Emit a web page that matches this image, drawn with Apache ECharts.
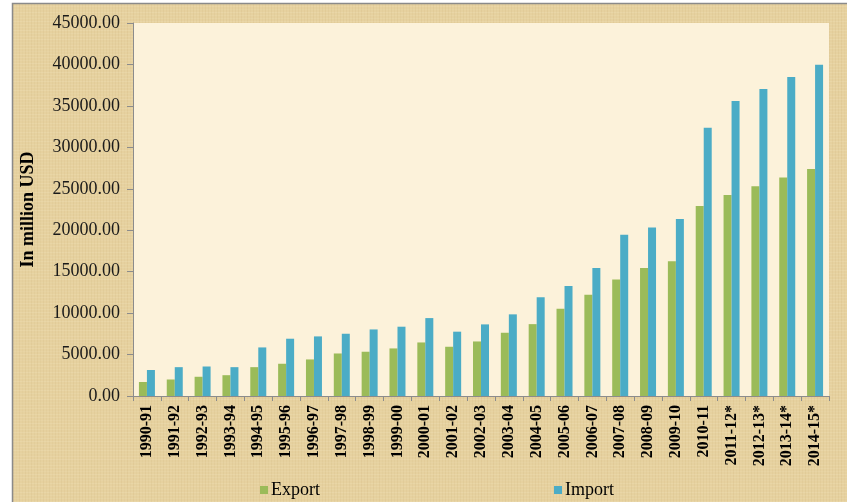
<!DOCTYPE html>
<html>
<head>
<meta charset="utf-8">
<style>
  html, body { margin: 0; padding: 0; background: #ffffff; }
  #chart { width: 847px; height: 502px; }
</style>
<script src="https://cdn.jsdelivr.net/npm/echarts@6/dist/echarts.min.js"></script>
</head>
<body>
<div id="chart"></div>
<script>
// Fiscal years on the category axis
const years = [
  '1990-91', '1991-92', '1992-93', '1993-94', '1994-95', '1995-96', '1996-97',
  '1997-98', '1998-99', '1999-00', '2000-01', '2001-02', '2002-03', '2003-04',
  '2004-05', '2005-06', '2006-07', '2007-08', '2008-09', '2009-10', '2010-11',
  '2011-12*', '2012-13*', '2013-14*', '2014-15*'
];

// Trade values, in million USD
const exportValues = [
  1690, 1990, 2320, 2510, 3480, 3890, 4410, 5130, 5340, 5740, 6460, 5940, 6580,
  7630, 8670, 10530, 12220, 14070, 15440, 16250, 22930, 24260, 25310, 26360, 27400
];
const importValues = [
  3140, 3480, 3560, 3480, 5860, 6910, 7190, 7510, 8030, 8360, 9400, 7760, 8640,
  9850, 11900, 13260, 15440, 19450, 20320, 21350, 32350, 35580, 37030, 38480, 39960
];

// Value axis range
const yMin = 0;
const yMax = 45000;
const yStep = 5000;

const serif = '"Liberation Serif", "DejaVu Serif", serif';

// Papyrus-like fill for the chart frame: a tan base crossed by faint fibres
function papyrusTile() {
  const c = document.createElement('canvas');
  c.width = 120;
  c.height = 120;
  const g = c.getContext('2d');
  g.fillStyle = '#e6d19f';
  g.fillRect(0, 0, 120, 120);
  for (let i = 0; i < 120; i += 3) {
    const a = 0.10 + 0.08 * Math.abs(Math.sin(i * 0.37));
    g.fillStyle = 'rgba(250,238,205,' + a.toFixed(3) + ')';
    g.fillRect(0, i, 120, 1);
    const b = 0.06 + 0.06 * Math.abs(Math.cos(i * 0.53));
    g.fillStyle = 'rgba(190,160,100,' + b.toFixed(3) + ')';
    g.fillRect(i + 1, 0, 1, 120);
  }
  return c;
}

const chart = echarts.init(document.getElementById('chart'), null, { renderer: 'canvas' });

chart.setOption({
  backgroundColor: '#ffffff',
  animation: false,
  graphic: [
    {
      type: 'rect',
      z: -10,
      silent: true,
      shape: { x: 12.5, y: 3.5, width: 900, height: 560 },
      style: {
        fill: { image: papyrusTile(), repeat: 'repeat' },
        stroke: '#8a8a8a',
        lineWidth: 1.5
      }
    }
  ],
  grid: {
    left: 133,
    top: 23,
    right: 18,
    bottom: 106,
    show: true,
    backgroundColor: '#fcf2da',
    borderWidth: 0
  },
  legend: {
    data: ['Export', 'Import'],
    left: 255,
    top: 476,
    itemWidth: 8,
    itemHeight: 8,
    itemGap: 234,
    icon: 'rect',
    textStyle: { fontFamily: serif, fontSize: 18, color: '#000000', padding: [0, 0, 0, -2] }
  },
  xAxis: {
    type: 'category',
    data: years,
    boundaryGap: true,
    axisLine: { show: true, lineStyle: { color: '#8c8c8c', width: 1 } },
    axisTick: { show: true, length: 5, inside: false, lineStyle: { color: '#8c8c8c' } },
    axisLabel: {
      rotate: 90,
      interval: 0,
      margin: 9,
      fontFamily: serif,
      fontWeight: 'bold',
      fontSize: 16,
      color: '#000000'
    },
    splitLine: { show: false }
  },
  yAxis: {
    type: 'value',
    min: yMin,
    max: yMax,
    interval: yStep,
    name: 'In million USD',
    nameLocation: 'middle',
    nameGap: 96,
    nameTextStyle: { fontFamily: serif, fontWeight: 'bold', fontSize: 18, color: '#000000' },
    axisLine: { show: true, lineStyle: { color: '#8c8c8c', width: 1 } },
    axisTick: { show: true, length: 6, lineStyle: { color: '#8c8c8c' } },
    axisLabel: {
      margin: 13,
      fontFamily: serif,
      fontSize: 18,
      color: '#1a1a1a',
      formatter: v => v.toFixed(2)
    },
    splitLine: { show: false }
  },
  series: [
    {
      name: 'Export',
      type: 'bar',
      data: exportValues,
      barWidth: 8,
      barGap: '0%',
      itemStyle: { color: '#9bbb59' }
    },
    {
      name: 'Import',
      type: 'bar',
      data: importValues,
      barWidth: 8,
      barGap: '0%',
      itemStyle: { color: '#4bacc6' }
    }
  ]
});
</script>
</body>
</html>
